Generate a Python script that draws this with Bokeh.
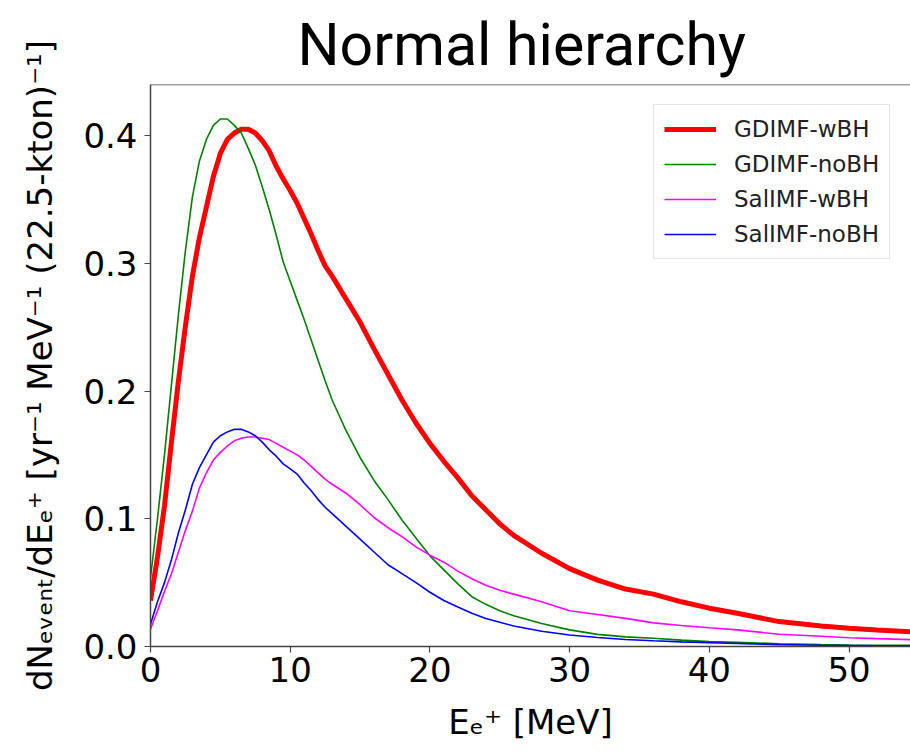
from bokeh.plotting import figure
from bokeh.models import (ColumnDataSource, FixedTicker, NumeralTickFormatter, Legend,
                          LegendItem, Span, Range1d)
from bokeh.embed import file_html
from bokeh.resources import INLINE

# ---------------- data ----------------
energy = [0, 0.5, 1, 1.5, 2, 2.5, 3, 3.5, 4, 4.5, 5, 5.5, 6, 6.5, 7, 7.5, 8, 8.5, 9, 9.5,
          10, 10.5, 11, 11.5, 12, 12.5, 13, 14, 15, 16, 17, 18, 19, 20, 21, 22, 23, 24, 25,
          26, 28, 30, 32, 34, 36, 38, 40, 42, 45, 48, 50, 52, 55]

gdimf_wbh = [0.036, 0.070, 0.110, 0.160, 0.208, 0.251, 0.290, 0.320, 0.344, 0.368, 0.386,
             0.397, 0.402, 0.405, 0.405, 0.402, 0.396, 0.388, 0.376, 0.366,
             0.357, 0.347, 0.335, 0.323, 0.310, 0.298, 0.290, 0.272, 0.254, 0.233, 0.213,
             0.193, 0.175, 0.159, 0.145, 0.132, 0.118, 0.107, 0.096,
             0.087, 0.073, 0.061, 0.052, 0.045, 0.041, 0.035, 0.030, 0.026, 0.0195, 0.016,
             0.0143, 0.013, 0.0112]

gdimf_nobh = [0.054, 0.100, 0.150, 0.205, 0.260, 0.310, 0.352, 0.380, 0.397, 0.408, 0.413,
              0.413, 0.408, 0.402, 0.390, 0.377, 0.360, 0.342, 0.322, 0.301,
              0.286, 0.271, 0.256, 0.240, 0.224, 0.208, 0.193, 0.169, 0.148, 0.130, 0.115,
              0.099, 0.085, 0.071, 0.060, 0.049, 0.039, 0.033, 0.028,
              0.024, 0.018, 0.013, 0.0095, 0.0075, 0.0065, 0.005, 0.0038, 0.0032, 0.0022,
              0.0015, 0.0012, 0.001, 0.0008]

salimf_wbh = [0.0135, 0.028, 0.043, 0.057, 0.074, 0.091, 0.106, 0.124, 0.136, 0.146, 0.152,
              0.157, 0.161, 0.163, 0.164, 0.164, 0.163, 0.162, 0.159, 0.156,
              0.153, 0.150, 0.146, 0.141, 0.136, 0.131, 0.127, 0.120, 0.111, 0.101, 0.093,
              0.086, 0.078, 0.0715, 0.066, 0.059, 0.053, 0.048, 0.044,
              0.041, 0.035, 0.028, 0.025, 0.022, 0.0185, 0.0165, 0.0147, 0.013, 0.0096,
              0.008, 0.0069, 0.0062, 0.0052]

salimf_nobh = [0.0174, 0.035, 0.050, 0.068, 0.089, 0.107, 0.127, 0.140, 0.150, 0.160, 0.165,
               0.168, 0.170, 0.170, 0.168, 0.165, 0.160, 0.154, 0.149, 0.143,
               0.139, 0.135, 0.128, 0.122, 0.115, 0.109, 0.104, 0.094, 0.084, 0.074, 0.064,
               0.057, 0.050, 0.0425, 0.036, 0.031, 0.026, 0.022, 0.019,
               0.016, 0.012, 0.009, 0.007, 0.0055, 0.0045, 0.0036, 0.003, 0.0024, 0.0015,
               0.001, 0.0008, 0.0006, 0.0005]

series_names = ["GDIMF-wBH", "GDIMF-noBH", "SalIMF-wBH", "SalIMF-noBH"]
x_ticks = [0, 10, 20, 30, 40, 50]
y_ticks = [0.0, 0.1, 0.2, 0.3, 0.4]

# ---------------- figure ----------------
p = figure(width=910, height=752, output_backend="svg", toolbar_location=None,
           x_range=Range1d(0, 54.4), y_range=Range1d(0, 0.44),
           min_border_left=150, min_border_right=0, min_border_top=84,
           min_border_bottom=106, title="Normal hierarchy")
p.background_fill_color = "white"
p.border_fill_color = "white"
p.grid.visible = False
p.outline_line_color = None

p.title.text_font = "Roboto"
p.title.text_font_size = "59px"
p.title.text_font_style = "normal"
p.title.align = "left"
p.title.offset = 147
p.title.text_color = "black"
p.title.standoff = 11

src = ColumnDataSource(dict(x=energy, a=gdimf_wbh, b=gdimf_nobh, c=salimf_wbh, d=salimf_nobh))
r1 = p.line("x", "a", source=src, line_color="#ff0000", line_width=5)
r2 = p.line("x", "b", source=src, line_color="#008000", line_width=1.6)
r3 = p.line("x", "c", source=src, line_color="#ff00ff", line_width=1.6)
r4 = p.line("x", "d", source=src, line_color="#0000ff", line_width=1.6)

# top spine
p.add_layout(Span(location=0.44, dimension="width", line_color="#444444", line_width=1.5))

for ax in (p.xaxis[0], p.yaxis[0]):
    ax.axis_line_color = "#444444"
    ax.axis_line_width = 1.5
    ax.major_tick_line_color = "#444444"
    ax.major_tick_line_width = 1.2
    ax.major_tick_out = 6
    ax.major_tick_in = 0
    ax.minor_tick_line_color = None
    ax.major_label_text_font = "DejaVu Sans"
    ax.major_label_text_font_size = "34px"
    ax.major_label_text_color = "black"
    ax.axis_label_text_font = "DejaVu Sans"
    ax.axis_label_text_font_style = "normal"
    ax.axis_label_text_color = "black"

p.xaxis.ticker = FixedTicker(ticks=x_ticks)
p.yaxis.ticker = FixedTicker(ticks=y_ticks)
p.yaxis.formatter = NumeralTickFormatter(format="0.0")
p.xaxis.major_label_standoff = 4
p.yaxis.major_label_standoff = 7

p.xaxis.axis_label = "E\u2091\u207A [MeV]"
p.xaxis.axis_label_text_font_size = "34px"
p.xaxis.axis_label_standoff = 17
p.yaxis.axis_label = "dN\u2091\u1D65\u2091\u2099\u209C/dE\u2091\u207A [yr\u207B\u00B9 MeV\u207B\u00B9 (22.5-kton)\u207B\u00B9]"
p.yaxis.axis_label_text_font_size = "34px"
p.yaxis.axis_label_standoff = 20

legend = Legend(items=[LegendItem(label=series_names[0], renderers=[r1]),
                       LegendItem(label=series_names[1], renderers=[r2]),
                       LegendItem(label=series_names[2], renderers=[r3]),
                       LegendItem(label=series_names[3], renderers=[r4])],
                location=(503, 387))
legend.label_text_font = "DejaVu Sans"
legend.label_text_font_size = "23px"
legend.label_text_color = "#222222"
legend.glyph_width = 52
legend.glyph_height = 28
legend.label_height = 28
legend.spacing = 7
legend.padding = 10
legend.label_standoff = 18
legend.border_line_color = "#cccccc"
legend.border_line_width = 1.5
legend.background_fill_alpha = 0.9
p.add_layout(legend)

open("out.html", "w").write(file_html(p, INLINE))
